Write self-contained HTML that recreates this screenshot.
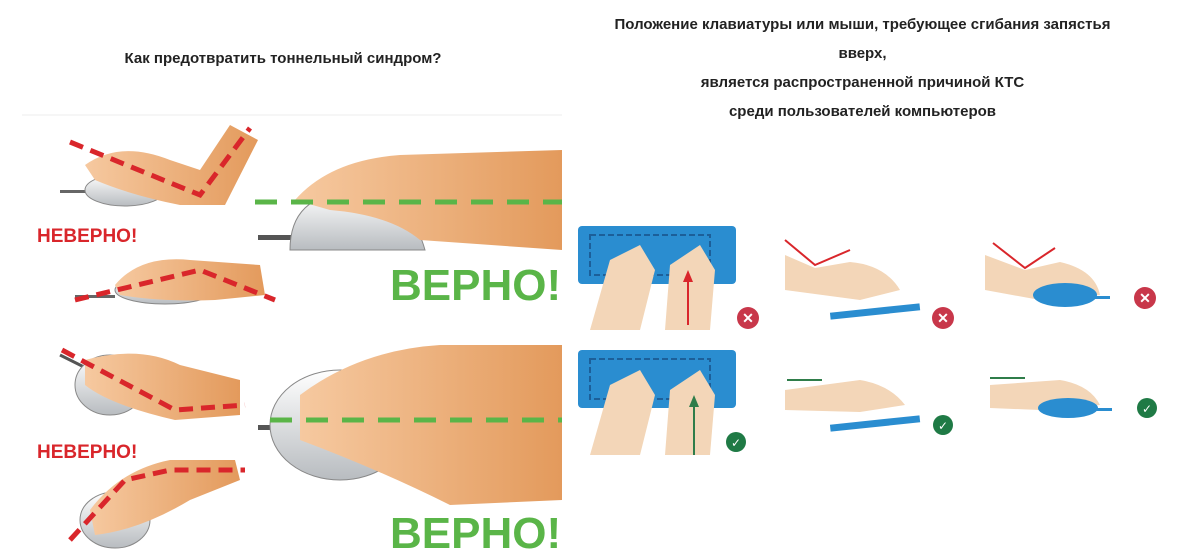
<!DOCTYPE html>
<html><head><meta charset="utf-8"><style>
html,body{margin:0;padding:0;background:#fff;width:1193px;height:560px;overflow:hidden;font-family:"Liberation Sans",sans-serif}
.t{position:absolute;font-weight:bold;color:#222;font-size:15px;text-align:center}
</style></head><body>
<div class="t" style="left:40px;width:486px;top:50px">Как предотвратить тоннельный синдром?</div>
<div class="t" style="left:570px;width:585px;top:10px;line-height:29px">Положение клавиатуры или мыши, требующее сгибания запястья<br>вверх,<br>является распространенной причиной КТС<br>среди пользователей компьютеров</div>
<svg width="1193" height="560" style="position:absolute;left:0;top:0">
<defs><linearGradient id="sk" x1="0" x2="1"><stop offset="0" stop-color="#f6c9a0"/><stop offset="1" stop-color="#e39a5c"/></linearGradient>
<linearGradient id="ms" x1="0" x2="0" y1="0" y2="1"><stop offset="0" stop-color="#fff"/><stop offset="1" stop-color="#b8bcc0"/></linearGradient></defs>
<line x1="22" y1="115" x2="562" y2="115" stroke="#eee"/>
<!-- left top wrong 1 -->
<rect x="60" y="190" width="30" height="3" fill="#666"/>
<ellipse cx="125" cy="190" rx="40" ry="16" fill="url(#ms)" stroke="#888"/>
<path d="M85 165 Q120 140 170 160 L200 170 L230 125 L258 140 L225 205 L180 205 Q130 195 95 180Z" fill="url(#sk)"/>
<path d="M70 142 L200 195 L250 128" stroke="#d9262b" stroke-width="5" stroke-dasharray="14 8" fill="none"/>
<text x="37" y="242" fill="#d9262b" font-weight="bold" font-size="19">НЕВЕРНО!</text>
<rect x="75" y="295" width="40" height="3" fill="#666"/>
<ellipse cx="165" cy="290" rx="50" ry="14" fill="url(#ms)" stroke="#888"/>
<path d="M115 285 Q140 255 190 260 L260 265 L265 295 L215 300 Q160 302 120 295Z" fill="url(#sk)"/>
<path d="M75 300 L200 270 L275 300" stroke="#d9262b" stroke-width="5" stroke-dasharray="14 8" fill="none"/>
<!-- right top correct -->
<rect x="258" y="235" width="35" height="5" fill="#555"/>
<path d="M290 250 Q290 195 350 192 Q410 195 425 250Z" fill="url(#ms)" stroke="#888"/>
<path d="M295 200 Q330 160 400 155 L562 150 L562 250 L420 240 Q390 215 330 210Z" fill="url(#sk)"/>
<line x1="255" y1="202" x2="562" y2="202" stroke="#5ab548" stroke-width="5" stroke-dasharray="22 14"/>
<text x="390" y="300" fill="#5ab548" font-weight="bold" font-size="44">ВЕРНО!</text>
<!-- left bottom wrong -->
<path d="M60 355 L100 375" stroke="#555" stroke-width="3"/>
<ellipse cx="110" cy="385" rx="35" ry="30" fill="url(#ms)" stroke="#888"/>
<path d="M85 360 Q140 345 180 365 L240 380 L240 415 L175 420 Q110 405 85 385Z" fill="url(#sk)"/>
<path d="M62 350 L175 410 L245 405" stroke="#d9262b" stroke-width="5" stroke-dasharray="14 8" fill="none"/>
<text x="37" y="458" fill="#d9262b" font-weight="bold" font-size="19">НЕВЕРНО!</text>
<ellipse cx="115" cy="520" rx="35" ry="28" fill="url(#ms)" stroke="#888"/>
<path d="M90 510 Q120 470 170 460 L235 460 L240 480 L190 500 Q140 530 95 535Z" fill="url(#sk)"/>
<path d="M70 540 L125 480 L170 470 L245 470" stroke="#d9262b" stroke-width="5" stroke-dasharray="14 8" fill="none"/>
<!-- right bottom correct -->
<rect x="258" y="425" width="25" height="5" fill="#555"/>
<ellipse cx="340" cy="425" rx="70" ry="55" fill="url(#ms)" stroke="#888"/>
<path d="M300 395 Q360 350 440 345 L562 345 L562 500 L450 505 Q380 470 300 440Z" fill="url(#sk)"/>
<line x1="270" y1="420" x2="562" y2="420" stroke="#5ab548" stroke-width="5" stroke-dasharray="22 14"/>
<text x="390" y="548" fill="#5ab548" font-weight="bold" font-size="44">ВЕРНО!</text>
<!-- right keyboards -->
<rect x="578" y="226" width="158" height="58" rx="4" fill="#2a8dd0"/>
<rect x="590" y="235" width="120" height="40" fill="none" stroke="#1c5f99" stroke-width="2" stroke-dasharray="6 3"/>
<path d="M590 330 L610 260 L640 245 L655 270 L640 330Z M665 330 L670 265 L700 245 L715 270 L710 330Z" fill="#f3d6b8"/>
<path d="M688 325 L688 275" stroke="#d9262b" stroke-width="2"/><path d="M683 282 L688 270 L693 282Z" fill="#d9262b"/>
<circle cx="748" cy="318" r="11" fill="#c8374a"/><text x="748" y="323" fill="#fff" font-size="14" font-weight="bold" text-anchor="middle">✕</text>
<rect x="578" y="350" width="158" height="58" rx="4" fill="#2a8dd0"/>
<rect x="590" y="359" width="120" height="40" fill="none" stroke="#1c5f99" stroke-width="2" stroke-dasharray="6 3"/>
<path d="M590 455 L610 385 L640 370 L655 395 L640 455Z M665 455 L670 390 L700 370 L715 395 L710 455Z" fill="#f3d6b8"/>
<path d="M694 455 L694 400" stroke="#2f7d4a" stroke-width="2"/><path d="M689 407 L694 395 L699 407Z" fill="#2f7d4a"/>
<circle cx="736" cy="442" r="10" fill="#1f7a45"/><text x="736" y="447" fill="#fff" font-size="12" text-anchor="middle">✓</text>
<!-- wrist side views -->
<path d="M785 255 L815 268 L850 262 Q885 265 900 290 L860 300 L785 290Z" fill="#f3d6b8"/>
<path d="M785 240 L815 265 L850 250" stroke="#d9262b" stroke-width="2" fill="none"/>
<rect x="830" y="308" width="90" height="7" fill="#2a8dd0" transform="rotate(-6 875 311)"/>
<circle cx="943" cy="318" r="11" fill="#c8374a"/><text x="943" y="323" fill="#fff" font-size="14" font-weight="bold" text-anchor="middle">✕</text>
<path d="M785 390 L860 380 Q890 385 905 405 L860 412 L785 410Z" fill="#f3d6b8"/>
<path d="M787 380 L822 380" stroke="#2f7d4a" stroke-width="2"/>
<rect x="830" y="420" width="90" height="7" fill="#2a8dd0" transform="rotate(-6 875 423)"/>
<circle cx="943" cy="425" r="10" fill="#1f7a45"/><text x="943" y="430" fill="#fff" font-size="12" text-anchor="middle">✓</text>
<path d="M985 255 L1025 270 L1060 262 Q1095 270 1100 295 L1040 300 L985 290Z" fill="#f3d6b8"/>
<ellipse cx="1065" cy="295" rx="32" ry="12" fill="#2a8dd0"/>
<rect x="1090" y="296" width="20" height="3" fill="#2a8dd0"/>
<path d="M993 243 L1025 268 L1055 248" stroke="#d9262b" stroke-width="2" fill="none"/>
<circle cx="1145" cy="298" r="11" fill="#c8374a"/><text x="1145" y="303" fill="#fff" font-size="14" font-weight="bold" text-anchor="middle">✕</text>
<path d="M990 385 L1060 380 Q1090 385 1100 405 L1040 410 L990 408Z" fill="#f3d6b8"/>
<ellipse cx="1068" cy="408" rx="30" ry="10" fill="#2a8dd0"/>
<rect x="1092" y="408" width="20" height="3" fill="#2a8dd0"/>
<path d="M990 378 L1025 378" stroke="#2f7d4a" stroke-width="2"/>
<circle cx="1147" cy="408" r="10" fill="#1f7a45"/><text x="1147" y="413" fill="#fff" font-size="12" text-anchor="middle">✓</text>
</svg>
</body></html>
